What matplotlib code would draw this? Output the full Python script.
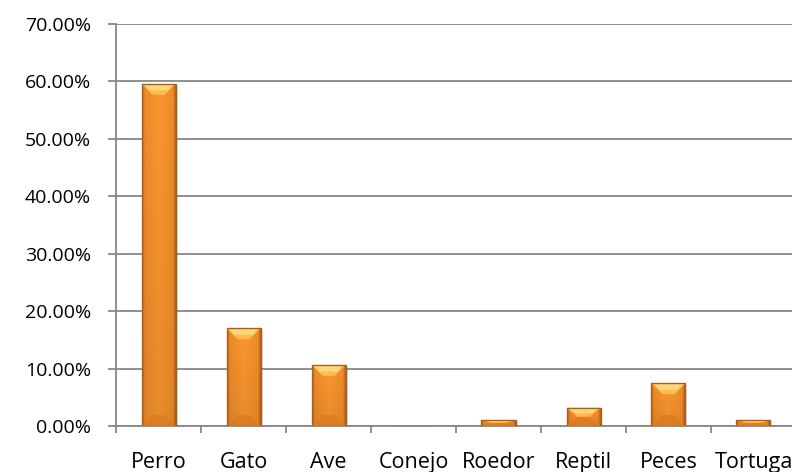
import matplotlib
matplotlib.use("Agg")
import matplotlib.pyplot as plt
import numpy as np
from matplotlib.patches import Polygon, Rectangle
from matplotlib.ticker import FuncFormatter, FixedLocator
from matplotlib.colors import LinearSegmentedColormap

categories = ["Perro", "Gato", "Ave", "Conejo", "Roedor", "Reptil", "Peces", "Tortuga"]
shares = [59.57, 17.02, 10.64, 0.0, 1.06, 3.19, 7.45, 1.06]
y_ticks = [0, 10, 20, 30, 40, 50, 60, 70]

plt.rcParams["font.family"] = ["Open Sans", "DejaVu Sans"]

W, H = 792, 472
fig = plt.figure(figsize=(W / 100, H / 100), dpi=100)
ax = fig.add_axes([116 / W, 46 / H, 680 / W, 402 / H])

x = np.arange(len(categories))
bar_w = 0.4
bars = ax.bar(x, shares, width=bar_w, color="#F7922A", edgecolor="#A95E1C",
              linewidth=0.8, zorder=3)

ax.set_xlim(-0.5, len(categories) - 0.5)
ax.set_ylim(0, 70)

# pixel -> data scale for bevel sizes
px_x = 1.0 / 85.0
px_y = 70.0 / 402.0

body_cmap = LinearSegmentedColormap.from_list(
    "body", [(0.0, "#B8661E"), (0.08, "#EE8A2A"), (0.5, "#F9972F"),
             (0.92, "#F08C2A"), (1.0, "#B0621C")])

for rect in bars:
    h = rect.get_height()
    if h <= 0:
        continue
    x0 = rect.get_x()
    x1 = x0 + rect.get_width()
    # soft drop shadow
    ax.add_patch(Rectangle((x0 + 2 * px_x, -2 * px_y), x1 - x0, h,
                           facecolor="#000000", alpha=0.10, linewidth=0, zorder=2.5))
    # body gradient: dark rims left/right, slightly darker towards the base
    gx = np.linspace(0, 1, 64)
    img = body_cmap(gx)[None, :, :].repeat(32, axis=0)
    shade = np.linspace(0.93, 1.0, 32)[:, None, None]
    img[:, :, :3] *= shade
    im = ax.imshow(img, extent=(x0, x1, 0, h), aspect="auto", origin="lower",
                   zorder=3.1, interpolation="bicubic")
    im.set_clip_path(rect)

    bx = min(11 * px_x, (x1 - x0) / 2)
    by = min(11 * px_y, h / 2)
    # top bevel (light)
    ax.add_patch(Polygon([(x0, h), (x1, h), (x1 - bx, h - by), (x0 + bx, h - by)],
                         closed=True, facecolor="#FFBA50", edgecolor="none", zorder=3.2))
    ax.add_patch(Polygon([(x0 + bx * 0.3, h - by * 0.12), (x1 - bx * 0.3, h - by * 0.12),
                          (x1 - bx * 0.7, h - by * 0.6), (x0 + bx * 0.7, h - by * 0.6)],
                         closed=True, facecolor="#FFD680", edgecolor="none", zorder=3.25))
    # bottom bevel (dark)
    ax.add_patch(Polygon([(x0, 0), (x1, 0), (x1 - bx, by), (x0 + bx, by)],
                         closed=True, facecolor="#DC7B22", edgecolor="none", alpha=0.8,
                         zorder=3.2))
    # outline on top
    ax.add_patch(Rectangle((x0, 0), x1 - x0, h, facecolor="none",
                           edgecolor="#A95E1C", linewidth=0.9, zorder=3.4))

grid_c = "#878787"
ax.yaxis.set_major_locator(FixedLocator(y_ticks))
ax.yaxis.set_major_formatter(FuncFormatter(lambda v, p: f"{v:.2f}%"))
ax.grid(axis="y", color=grid_c, linewidth=1.3, zorder=1)
ax.set_axisbelow(True)

ax.set_xticks(np.arange(-0.5, len(categories)), labels=[""] * (len(categories) + 1))
ax.set_xticks(x, labels=categories, minor=True)
ax.tick_params(axis="x", which="major", length=5, width=1.3, color=grid_c, direction="out")
ax.tick_params(axis="x", which="minor", length=0, pad=19, labelsize=15.5, labelcolor="#000000")
ax.tick_params(axis="y", length=6, width=1.3, color=grid_c, pad=12, labelsize=14,
               labelcolor="#000000")

for s in ("top", "right"):
    ax.spines[s].set_visible(False)
for s in ("left", "bottom"):
    ax.spines[s].set_color(grid_c)
    ax.spines[s].set_linewidth(1.3)

fig.savefig("out.png", dpi=100)
